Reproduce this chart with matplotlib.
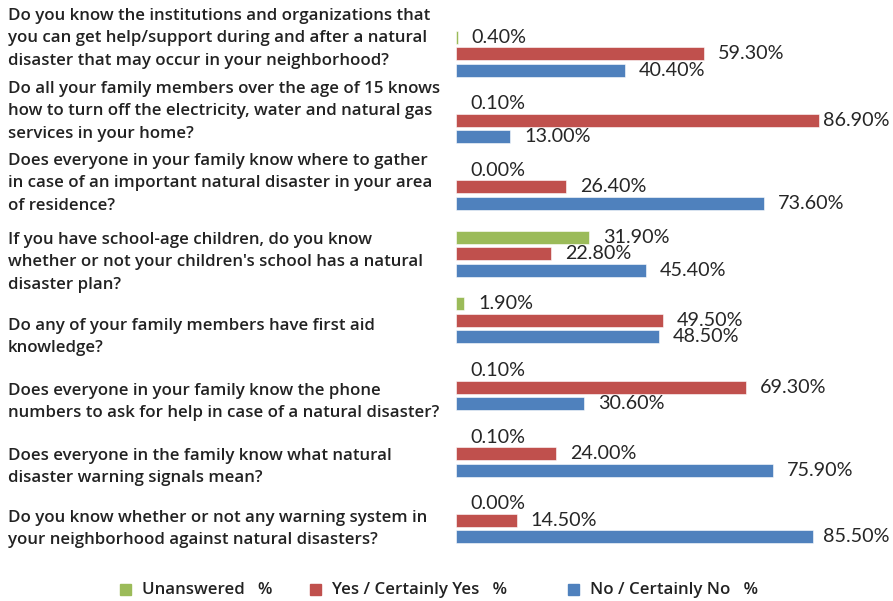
import matplotlib.pyplot as plt
from matplotlib.patches import Rectangle

# survey questions, top to bottom
questions = [
    "Do you know the institutions and organizations that\nyou can get help/support during and after a natural\ndisaster that may occur in your neighborhood?",
    "Do all your family members over the age of 15 knows\nhow to turn off the electricity, water and natural gas\nservices in your home?",
    "Does everyone in your family know where to gather\nin case of an important natural disaster in your area\nof residence?",
    "If you have school-age children, do you know\nwhether or not your children's school has a natural\ndisaster plan?",
    "Do any of your family members have first aid\nknowledge?",
    "Does everyone in your family know the phone\nnumbers to ask for help in case of a natural disaster?",
    "Does everyone in the family know what natural\ndisaster warning signals mean?",
    "Do you know whether or not any warning system in\nyour neighborhood against natural disasters?",
]

unanswered = [0.4, 0.1, 0.0, 31.9, 1.9, 0.1, 0.1, 0.0]
yes_vals = [59.3, 86.9, 26.4, 22.8, 49.5, 69.3, 24.0, 14.5]
no_vals = [40.4, 13.0, 73.6, 45.4, 48.5, 30.6, 75.9, 85.5]

series_names = ["Unanswered   %", "Yes / Certainly Yes   %", "No / Certainly No   %"]
colors = ["#9BBB59", "#C0504D", "#4F81BD"]

# where each question's first text line sits (pixels from top)
text_top_px = [15, 88, 160, 239, 325, 390, 455, 517]
legend_x_px = [120, 310, 568]

W, H = 893, 601
fig = plt.figure(figsize=(W / 100, H / 100), dpi=100)
ax = fig.add_axes([456 / W, 1 - 570.5 / H, 418 / W, 567 / H])

offsets = [-0.247, 0.0, 0.247]
bar_h = 0.195
n = len(questions)
label_font = dict(family=["Lato", "DejaVu Sans"], fontsize=14.2, color="#262626")

texts = []
for vals, off, col in zip([unanswered, yes_vals, no_vals], offsets, colors):
    ys = [i + off for i in range(n)]
    ax.barh(ys, vals, height=bar_h, color=col, edgecolor="white", linewidth=0.4)
    for y, v in zip(ys, vals):
        t = ax.annotate(f"{v:.2f}%", xy=(v, y), xytext=(14, 0), textcoords="offset pixels",
                        va="center", ha="left", annotation_clip=False, **label_font)
        texts.append(t)

ax.set_xlim(0, 100)
ax.set_ylim(n - 0.25, -0.75)
ax.axis("off")

# keep value labels inside the figure's right edge
fig.canvas.draw()
renderer = fig.canvas.get_renderer()
for t in texts:
    bb = t.get_window_extent(renderer)
    if bb.x1 > W - 4:
        dx = bb.x1 - (W - 4)
        t.set_position((14 - dx, 0))

q_font = dict(family=["Open Sans", "DejaVu Sans"], fontsize=12.2, fontweight=600, color="#222222")
for q, ty in zip(questions, text_top_px):
    fig.text(8 / W, 1 - (ty - 7) / H, q, ha="left", va="top", linespacing=1.54, **q_font)

# legend along the bottom
for name, col, lx in zip(series_names, colors, legend_x_px):
    fig.patches.append(Rectangle((lx / W, 1 - 595 / H), 11 / W, 11 / H, color=col,
                                 transform=fig.transFigure, figure=fig))
    fig.text((lx + 22) / W, 1 - 590 / H, name, ha="left", va="center", **q_font)

fig.savefig("out.png", dpi=100)
